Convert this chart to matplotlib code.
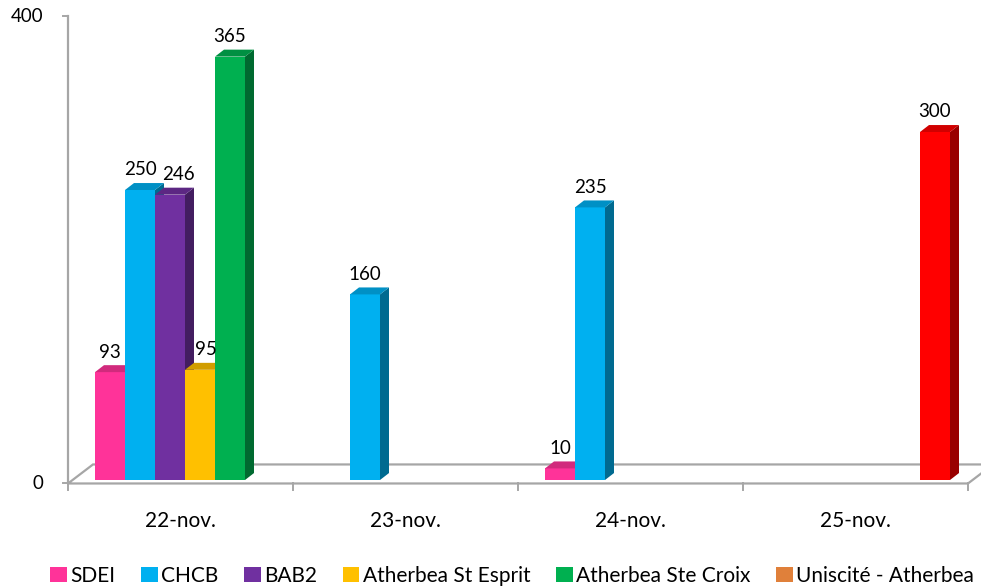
import matplotlib
matplotlib.use("Agg")
import matplotlib.pyplot as plt
from matplotlib.patches import Polygon, Patch
import numpy as np

categories = ["22-nov.", "23-nov.", "24-nov.", "25-nov."]
series_names = ["SDEI", "CHCB", "BAB2", "Atherbea St Esprit", "Atherbea Ste Croix", "Uniscité - Atherbea"]
sdei = [93, 0, 10, 0]
chcb = [250, 160, 235, 0]
bab2 = [246, 0, 0, 0]
st_esprit = [95, 0, 0, 0]
ste_croix = [365, 0, 0, 0]
uniscite = [0, 0, 0, 300]
series_values = [sdei, chcb, bab2, st_esprit, ste_croix, uniscite]
legend_colors = ["#FF3399", "#00B0F0", "#7030A0", "#FFC000", "#00B050", "#E0803A"]
bar_colors = ["#FF3399", "#00B0F0", "#7030A0", "#FFC000", "#00B050", "#FF0000"]
y_ticks = [0, 400]

FONT = ["Lato", "DejaVu Sans"]
plt.rcParams["font.family"] = FONT

W, H = 981, 587
fig = plt.figure(figsize=(W / 100, H / 100), dpi=100)
# axes: x from px 68 to 968, y: 0 at px 480, 400 at px 16
ax = fig.add_axes([68 / W, (H - 480) / H, 900 / W, 464 / H])
ax.set_xlim(-0.5, len(categories) - 0.5)
ax.set_ylim(0, 400)
ax.axis("off")

def darker(c, f):
    r, g, b = matplotlib.colors.to_rgb(c)
    return (r * f, g * f, b * f)

# floor (3D)
floor_front = -3
floor_dx = 25 / 225
floor_dy = 16.4
x0, x1 = -0.5, len(categories) - 0.5
gray = "#A6A6A6"
ax.add_patch(Polygon([(x0, floor_front), (x1, floor_front), (x1 + floor_dx, floor_front + floor_dy),
                      (x0 + floor_dx, floor_front + floor_dy)], closed=True, facecolor="white",
                     edgecolor=gray, linewidth=1.6, clip_on=False, zorder=1))
# y axis line
ax.plot([x0, x0], [floor_front, 400], color=gray, lw=1.6, clip_on=False, zorder=2)
for t in y_ticks:
    yy = floor_front if t == 0 else t
    ax.plot([x0 - 5 / 225, x0], [yy, yy], color=gray, lw=1.4, clip_on=False, zorder=2)
    ax.text(x0 - 25 / 225, yy, str(t), ha="right", va="center", fontsize=13.5, color="black")
# category ticks
for i in range(len(categories) + 1):
    xx = -0.5 + i
    ax.plot([xx, xx], [floor_front, floor_front - 7 / 1.16], color=gray, lw=1.4, clip_on=False, zorder=2)
for i, c in enumerate(categories):
    ax.text(i, floor_front - 32, c, ha="center", va="center", fontsize=15, color="black")

# bars
bw = 30 / 225
offset = 27 / 225
bdx = 9 / 225
bdy = 6
label_nudge = {(0, 2): 8 / 225, (0, 3): 6 / 225}  # Excel's overlap avoidance
for i in range(len(categories)):
    for j, vals in enumerate(series_values):
        h = vals[i]
        if h <= 0:
            continue
        col = bar_colors[j]
        left = i - 0.5 + offset + j * bw
        right = left + bw
        z = 3 + j * 0.1
        ax.bar(left, h, width=bw, align="edge", color=col, edgecolor="none", zorder=z)
        ax.add_patch(Polygon([(left, h), (right, h), (right + bdx, h + bdy), (left + bdx, h + bdy)],
                             closed=True, facecolor=darker(col, 0.82), edgecolor="none", zorder=z))
        ax.add_patch(Polygon([(right, 0), (right, h), (right + bdx, h + bdy), (right + bdx, bdy)],
                             closed=True, facecolor=darker(col, 0.6), edgecolor="none", zorder=z - 0.05))
        ax.text(left + bw / 2 + label_nudge.get((i, j), 0), h + bdy + 4, str(h), ha="center",
                va="bottom", fontsize=13.5, color="black", zorder=10)

handles = [Patch(facecolor=c, edgecolor="none") for c in legend_colors]
fig.legend(handles, series_names, loc="lower left", bbox_to_anchor=(49 / W, 0.0), ncol=6,
           frameon=False, fontsize=15, handlelength=0.8, handleheight=0.7, handletextpad=0.15,
           columnspacing=1.25, borderaxespad=0.0, borderpad=0.05)

fig.savefig("out.png", dpi=100)
